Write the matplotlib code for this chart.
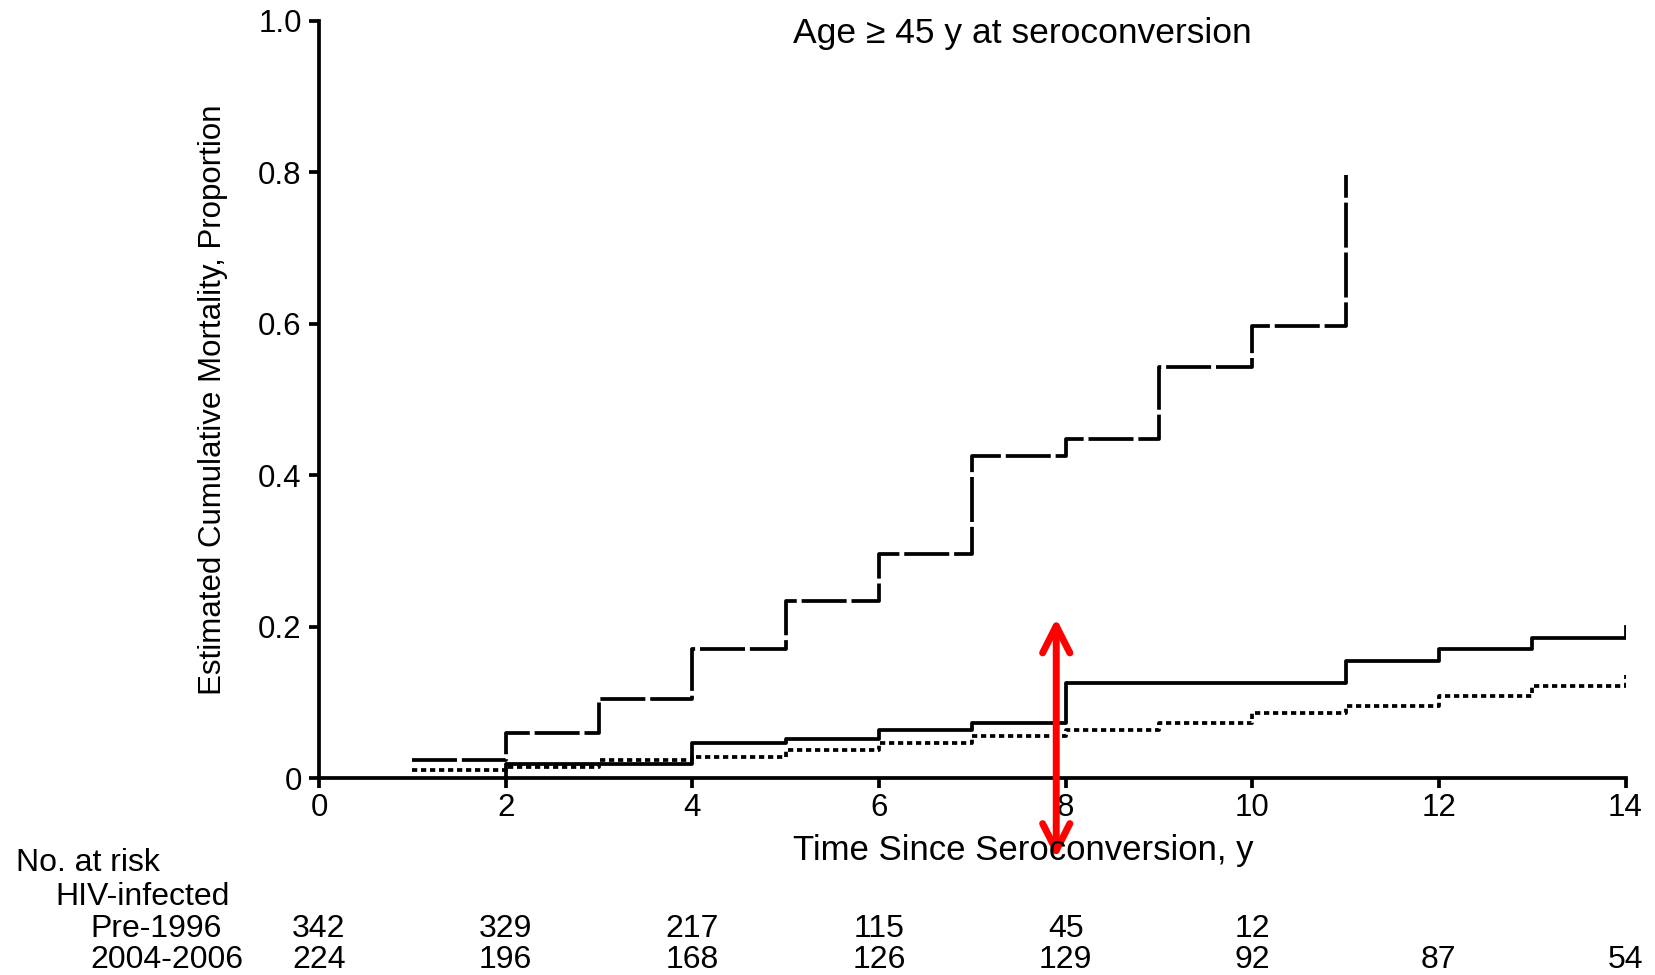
import matplotlib
matplotlib.use("Agg")
import matplotlib.pyplot as plt
from matplotlib.patches import FancyArrowPatch
from matplotlib.transforms import blended_transform_factory

plt.rcParams['font.family'] = ['Liberation Sans', 'DejaVu Sans']

# step curves (x = start of each step, y = cumulative mortality)
pre_x = [1, 2, 3, 4, 5, 6, 7, 8, 9, 10, 11]
pre_y = [0.024, 0.059, 0.104, 0.171, 0.234, 0.296, 0.426, 0.448, 0.543, 0.597, 0.797]

late_x = [2, 2, 4, 5, 6, 7, 8, 11, 12, 13, 14]
late_y = [0, 0.019, 0.046, 0.0515, 0.064, 0.073, 0.126, 0.154, 0.171, 0.1845, 0.199]

unin_x = [1, 2, 3, 4, 5, 6, 7, 8, 9, 10, 11, 12, 13, 14]
unin_y = [0.010, 0.0145, 0.0234, 0.028, 0.0366, 0.046, 0.055, 0.0638, 0.0727,
          0.0863, 0.0955, 0.1087, 0.122, 0.136]

# number at risk
risk_x = [0, 2, 4, 6, 8, 10, 12, 14]
risk_pre = [342, 329, 217, 115, 45, 12]
risk_late = [224, 196, 168, 126, 129, 92, 87, 54]

xticks = [0, 2, 4, 6, 8, 10, 12, 14]
yticks = [0, 0.2, 0.4, 0.6, 0.8, 1.0]
ytick_labels = ['0', '0.2', '0.4', '0.6', '0.8', '1.0']

W, H = 1655, 975
fig = plt.figure(figsize=(W / 100, H / 100), dpi=100)
ax = fig.add_axes([319 / W, 1 - 778 / H, (1625.5 - 319) / W, (778 - 21) / H])

lw = 2.7
ax.step(pre_x, pre_y, where='post', color='black', lw=lw, linestyle=(0, (12, 1.3)))
ax.step(late_x, late_y, where='post', color='black', lw=lw, linestyle='-')
ax.step(unin_x, unin_y, where='post', color='black', lw=lw, linestyle=(0, (1.4, 1.0)))

ax.set_xlim(0, 14)
ax.set_ylim(0, 1)
ax.set_xticks(xticks)
ax.set_xticklabels([str(t) for t in xticks])
ax.set_yticks(yticks)
ax.set_yticklabels(ytick_labels)
for s in ['top', 'right']:
    ax.spines[s].set_visible(False)
for s in ['left', 'bottom']:
    ax.spines[s].set_linewidth(2.7)
ax.tick_params(axis='both', direction='out', length=7.5, width=2.7, labelsize=22.5)
ax.tick_params(axis='x', pad=3)
ax.tick_params(axis='y', pad=5)

# title inside the plot
fig.text(1022 / W, 1 - 43 / H, 'Age \u2265 45 y at seroconversion', ha='center',
         va='baseline', fontsize=25.5)
fig.text(1023 / W, 1 - 860 / H, 'Time Since Seroconversion, y', ha='center',
         va='baseline', fontsize=25)
fig.text(213 / W, 1 - 399.5 / H, 'Estimated Cumulative Mortality, Proportion',
         rotation=90, ha='center', va='center', fontsize=22.5)

# red double arrow
arr = FancyArrowPatch((7.9, -0.106), (7.9, 0.211), arrowstyle='<->,head_length=0.97,head_width=0.49',
                      mutation_scale=20, color='red', lw=5, shrinkA=0, shrinkB=0,
                      capstyle='round', joinstyle='round', clip_on=False, zorder=5)
ax.add_patch(arr)

# at-risk table
fs = 23
row1 = 1 - 937 / H
row2 = 1 - 967.5 / H
fig.text(16 / W, 1 - 871 / H, 'No. at risk', ha='left', va='baseline', fontsize=fs)
fig.text(55 / W, 1 - 905 / H, 'HIV-infected', ha='left', va='baseline', fontsize=fs)
fig.text(90 / W, row1, 'Pre-1996', ha='left', va='baseline', fontsize=fs)
fig.text(90 / W, row2, '2004-2006', ha='left', va='baseline', fontsize=fs)
tr = blended_transform_factory(ax.transData, fig.transFigure)
for x, n in zip(risk_x, risk_pre):
    ax.text(x, row1, str(n), transform=tr, ha='center', va='baseline',
            fontsize=fs, clip_on=False)
for x, n in zip(risk_x, risk_late):
    ax.text(x, row2, str(n), transform=tr, ha='center', va='baseline',
            fontsize=fs, clip_on=False)

fig.savefig('out.png', dpi=100)
